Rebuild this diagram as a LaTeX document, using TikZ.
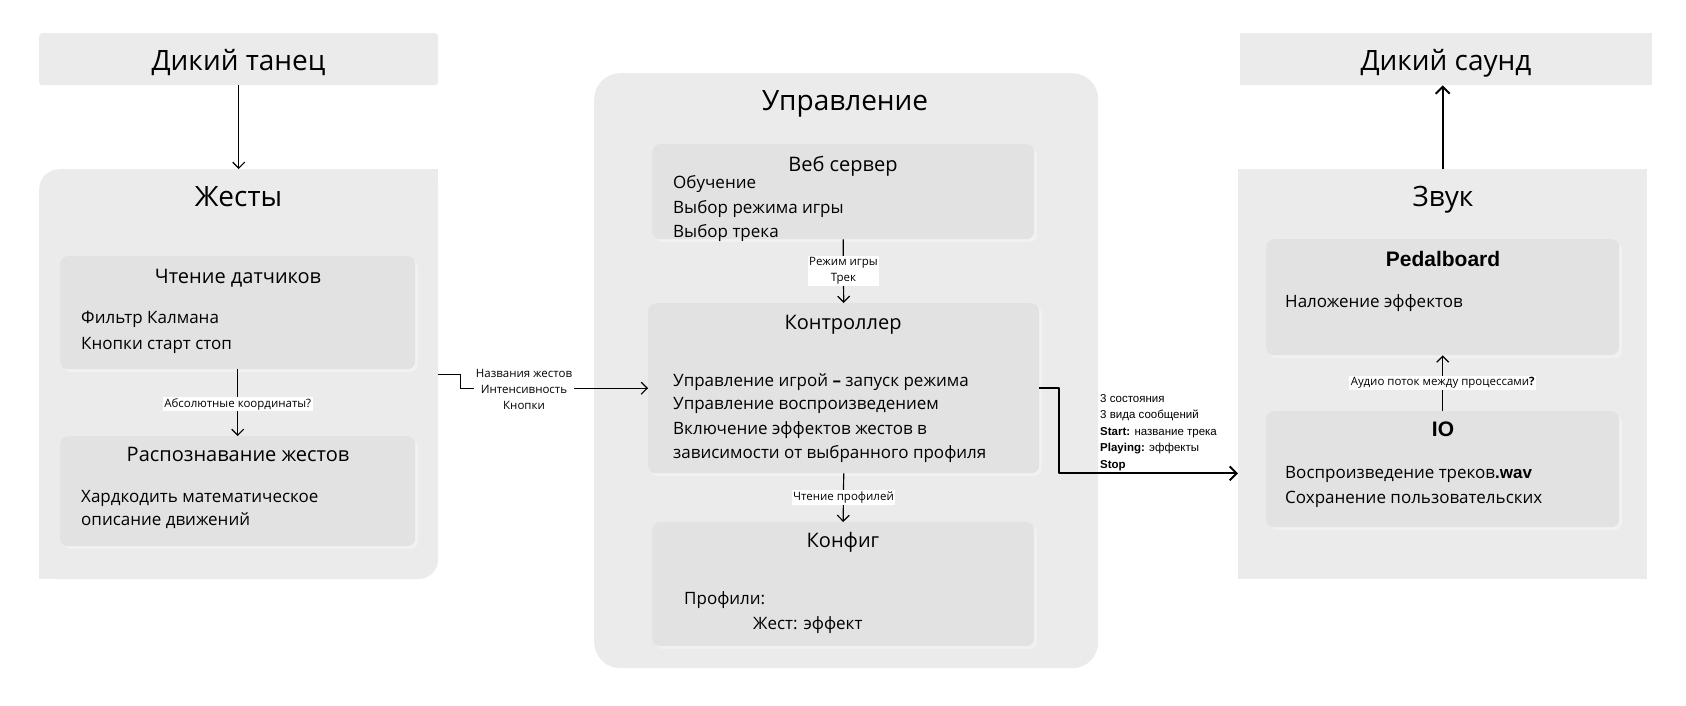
\documentclass[tikz,border=0pt]{standalone}
\usepackage{fontspec}
\setmainfont{Open Sans}
\newfontfamily\arialf{Liberation Sans}
\usetikzlibrary{arrows.meta}
\definecolor{contfill}{HTML}{EBEBEB}
\definecolor{boxfill}{HTML}{E2E2E2}
\definecolor{rimfill}{HTML}{F1F1F1}
\tikzset{
  cont/.style={fill=contfill, inner sep=0pt, anchor=north west},
  inbox/.style={fill=boxfill, inner sep=0pt, anchor=north west, rounded corners=8pt,
    preaction={fill=rimfill, sharp corners, transform canvas={xshift=3pt, yshift=-3pt}}},
  ttl/.style={font=\fontsize{28}{32}\selectfont, inner sep=0pt, text height=22pt, text depth=4pt},
  sttl/.style={font=\fontsize{20}{24}\selectfont, inner sep=0pt, text height=16pt, text depth=3pt},
  bttl/.style={font=\arialf\bfseries\fontsize{21}{24}\selectfont, inner sep=0pt, text height=17pt, text depth=3pt},
  ln/.style={font=\fontsize{17}{20}\selectfont, inner sep=0pt, anchor=west, text height=14pt, text depth=3pt},
  lbl/.style={fill=white, inner sep=1.5pt, font=\fontsize{11.5}{16}\selectfont, align=center},
  arr/.style={-{Straight Barb[length=6pt,width=12pt]}, line width=1.2pt},
  tarr/.style={-{Straight Barb[length=7pt,width=14pt]}, line width=1.9pt, line join=round},
}
\begin{document}
\begin{tikzpicture}[x=1pt,y=-1pt]
\useasboundingbox (0,0) rectangle (1686,705);

% ---------- left column ----------
\node[cont, rounded corners=3pt, minimum width=399pt, minimum height=52pt] (dt) at (39,33) {};
\node[ttl] (dtt) at (238.5,61) {Дикий танец};

\node[cont, rounded corners=20pt, minimum width=399pt, minimum height=410pt] (gest) at (39,169) {};
\fill[contfill] (gest.north) rectangle (gest.east);
\fill[contfill] (gest.west) rectangle (gest.south);
\node[ttl] (gestt) at (238.5,197) {Жесты};

\node[inbox, minimum width=355pt, minimum height=113pt] (rd) at (60,256) {};
\node[sttl] (rdt) at (238,277) {Чтение датчиков};
\node[ln] (rd1) at (81,318) {Фильтр Калмана};
\node[ln] (rd2) at (81,344) {Кнопки старт стоп};

\node[inbox, minimum width=355pt, minimum height=110pt] (rg) at (60,436) {};
\node[sttl] (rgt) at (238,455) {Распознавание жестов};
\node[ln] (rg1) at (81,497) {Хардкодить математическое};
\node[ln] (rg2) at (81,520) {описание движений};

% ---------- middle column ----------
\node[cont, rounded corners=26pt, minimum width=504pt, minimum height=595pt] (upr) at (594,73) {};
\node[ttl] (uprt) at (845,101) {Управление};

\node[inbox, minimum width=382pt, minimum height=95pt] (web) at (652,144) {};
\node[sttl] (webt) at (843,165) {Веб сервер};
\node[ln] (web1) at (673,183) {Обучение};
\node[ln] (web2) at (673,208) {Выбор режима игры};
\node[ln] (web3) at (673,232) {Выбор трека};

\node[inbox, minimum width=391pt, minimum height=170pt] (ctrl) at (648,303) {};
\node[sttl] (ctrlt) at (843,323) {Контроллер};
\node[ln] (ctrl1) at (673,381) {Управление игрой \textbf{–} запуск режима};
\node[ln] (ctrl2) at (673,404) {Управление воспроизведением};
\node[ln] (ctrl3) at (673,429) {Включение эффектов жестов в};
\node[ln] (ctrl4) at (673,453) {зависимости от выбранного профиля};

\node[inbox, minimum width=382pt, minimum height=124pt] (conf) at (652,522) {};
\node[sttl] (conft) at (843,541) {Конфиг};
\node[ln] (conf1) at (684,599) {Профили:};
\node[ln] (conf2) at (753,624) {Жест: эффект};

% ---------- right column ----------
\node[cont, minimum width=412pt, minimum height=52pt] (ds) at (1240,33) {};
\node[ttl] (dst) at (1446,61) {Дикий саунд};

\node[cont, minimum width=409pt, minimum height=410pt] (zvuk) at (1238,169) {};
\node[ttl] (zvukt) at (1443,197) {Звук};

\node[inbox, minimum width=353pt, minimum height=116pt] (ped) at (1266,239) {};
\node[bttl] (pedt) at (1443,259) {Pedalboard};
\node[ln] (ped1) at (1285,302) {Наложение эффектов};

\node[inbox, minimum width=353pt, minimum height=116pt] (io) at (1266,411) {};
\node[bttl] (iot) at (1443,429) {IO};
\node[ln] (io1) at (1285,473) {Воспроизведение треков{\arialf\bfseries .wav}};
\node[ln] (io2) at (1285,498) {Сохранение пользовательских};

% ---------- connectors ----------
\draw[arr] (dt.south) -- (gest.north);
\draw[arr] (rd.south) -- node[lbl, pos=0.52] (l1) {Абсолютные координаты?} (rg.north);
\draw[line width=1.2pt] (gest.east) -- ++(22,0) coordinate (g1) |- (ctrl.west) coordinate (g2);
\draw[arr] (g1 |- ctrl.west) -- (ctrl.west);
\node[lbl] (l2) at (524,389) {Названия жестов\\Интенсивность\\Кнопки};
\draw[arr] (web.south) -- node[lbl] (l3) {Режим игры\\Трек} (ctrl.north);
\draw[arr] (ctrl.south) -- node[lbl] (l4) {Чтение профилей} (conf.north);
\draw[tarr] (ctrl.east) -- ++(20,0) |- (zvuk.west |- ctrl.south);
\node[inner sep=0pt, anchor=north west, align=left, font=\arialf\fontsize{11.5}{16.5}\selectfont] (l5) at (1100,394)
  {3 состояния\\3 вида сообщений\\\textbf{Start:} название трека\\\textbf{Playing:} эффекты\\\textbf{Stop}};
\draw[arr] (io.north) -- node[lbl] (l6) {Аудио поток между процессами\textbf{?}} (ped.south);
\draw[tarr] (zvuk.north) -- (zvuk.north |- ds.south);
\end{tikzpicture}
\end{document}
